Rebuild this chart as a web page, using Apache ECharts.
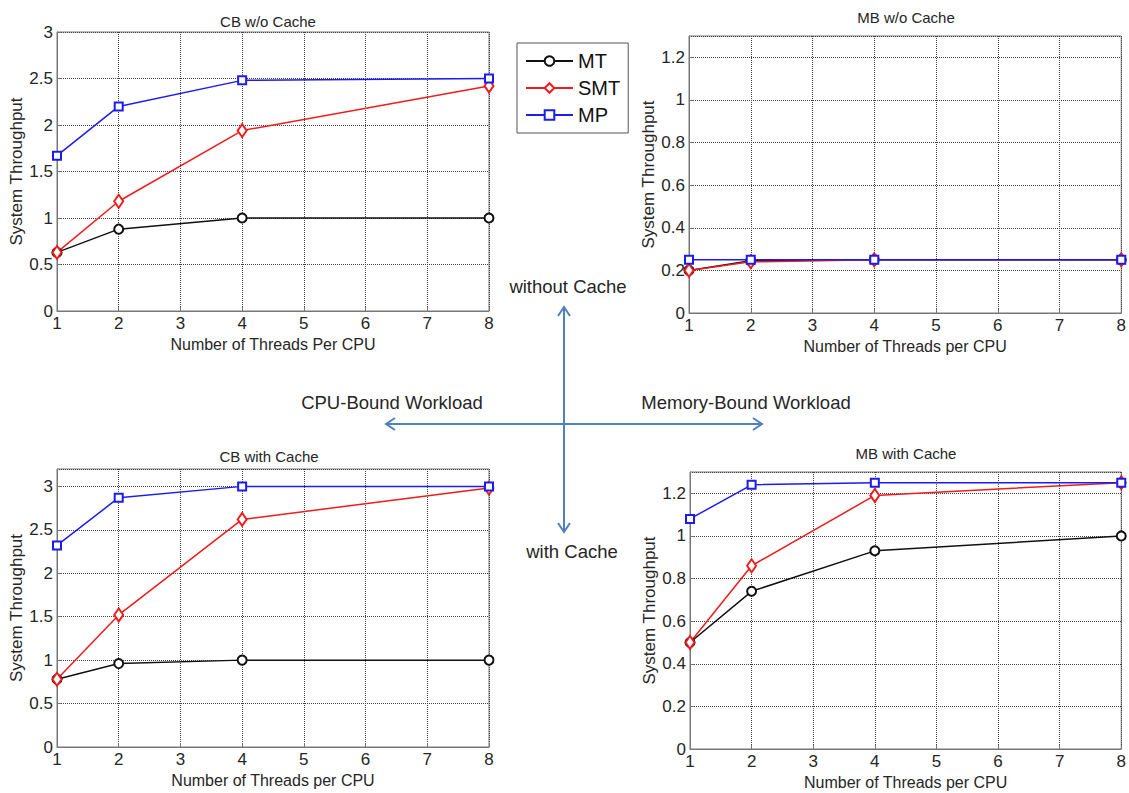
<!DOCTYPE html>
<html>
<head>
<meta charset="utf-8">
<script src="https://cdn.jsdelivr.net/npm/echarts/dist/echarts.min.js"></script>
<style>
  body { margin: 0; background: #fff; }
  #chart { width: 1129px; height: 793px; }
</style>
</head>
<body>
<div id="chart"></div>
<script>
// x values (threads per CPU) and the throughput
const threads = [1, 2, 4, 8];
const seriesNames = ['MT', 'SMT', 'MP'];

const cbNoCacheMT = [0.63, 0.88, 1.0, 1.0];
const cbNoCacheSMT = [0.63, 1.18, 1.94, 2.42];
const cbNoCacheMP = [1.67, 2.2, 2.48, 2.5];

const mbNoCacheMT = [0.2, 0.245, 0.25, 0.25];
const mbNoCacheSMT = [0.2, 0.24, 0.25, 0.25];
const mbNoCacheMP = [0.25, 0.25, 0.25, 0.25];

const cbCacheMT = [0.78, 0.96, 1.0, 1.0];
const cbCacheSMT = [0.78, 1.52, 2.62, 2.98];
const cbCacheMP = [2.32, 2.87, 3.0, 3.0];

const mbCacheMT = [0.5, 0.74, 0.93, 1.0];
const mbCacheSMT = [0.5, 0.86, 1.19, 1.25];
const mbCacheMP = [1.08, 1.24, 1.25, 1.25];

const panelTitles = ['CB w/o Cache', 'MB w/o Cache', 'CB with Cache', 'MB with Cache'];
const xNames = ['Number of Threads Per CPU', 'Number of Threads per CPU', 'Number of Threads per CPU', 'Number of Threads per CPU'];

const FONT = '"Liberation Sans", Arial, sans-serif';
const TXT = '#262626';

var panels = [
  { left: 57, top: 32, width: 432, height: 279, max: 3, interval: 0.5, data: [cbNoCacheMT, cbNoCacheSMT, cbNoCacheMP], tx: 268, ty: 21 },
  { left: 689, top: 36, width: 435, height: 277, max: 1.3, interval: 0.2, data: [mbNoCacheMT, mbNoCacheSMT, mbNoCacheMP], tx: 906, ty: 17 },
  { left: 57, top: 469, width: 432, height: 278, max: 3.2, interval: 0.5, data: [cbCacheMT, cbCacheSMT, cbCacheMP], tx: 269, ty: 456 },
  { left: 690, top: 472, width: 434, height: 277, max: 1.3, interval: 0.2, data: [mbCacheMT, mbCacheSMT, mbCacheMP], tx: 906, ty: 453 }
];

var styles = {
  MT: { color: '#111111', symbol: 'emptyCircle', symbolSize: 9 },
  SMT: { color: '#ee1c1c', symbol: 'emptyDiamond', symbolSize: [9, 13] },
  MP: { color: '#1c1cee', symbol: 'emptyRect', symbolSize: 8 }
};

const pairs = (ys) => threads.map((t, i) => [t, ys[i]]);

var grids = [], xAxes = [], yAxes = [], series = [], graphics = [];

panels.forEach(function (p, idx) {
  grids.push({
    left: p.left, top: p.top, width: p.width, height: p.height,
    show: true, borderColor: '#777', borderWidth: 1
  });
  xAxes.push({
    gridIndex: idx,
    type: 'value',
    min: 1, max: 8, interval: 1,
    name: xNames[idx],
    nameLocation: 'middle',
    nameGap: 25,
    nameTextStyle: { fontSize: 16, color: TXT, fontFamily: FONT },
    axisLine: { show: true, lineStyle: { color: '#777' } },
    axisTick: { show: true, inside: true, length: 4, lineStyle: { color: '#777' } },
    axisLabel: { fontSize: 17, color: TXT, fontFamily: FONT, margin: 4 },
    splitLine: { show: true, lineStyle: { type: 'dotted', color: '#444', width: 1 } }
  });
  yAxes.push({
    gridIndex: idx,
    type: 'value',
    min: 0, max: p.max, interval: p.interval,
    name: 'System Throughput',
    nameLocation: 'middle',
    nameGap: 30,
    nameTextStyle: { fontSize: 17, color: TXT, fontFamily: FONT },
    axisLine: { show: true, lineStyle: { color: '#777' } },
    axisTick: { show: true, inside: true, length: 4, lineStyle: { color: '#777' } },
    axisLabel: { fontSize: 17, color: TXT, fontFamily: FONT, margin: 4, showMaxLabel: p.max === 3 },
    splitLine: { show: true, lineStyle: { type: 'dotted', color: '#444', width: 1 } }
  });
  seriesNames.forEach(function (name, k) {
    var s = styles[name];
    series.push({
      name: name,
      type: 'line',
      xAxisIndex: idx,
      yAxisIndex: idx,
      data: pairs(p.data[k]),
      symbol: s.symbol,
      symbolSize: s.symbolSize,
      lineStyle: { color: s.color, width: 1.5 },
      itemStyle: { color: s.color, borderColor: s.color, borderWidth: 1.5 },
      animation: false
    });
  });
  graphics.push({
    type: 'text', x: p.tx, y: p.ty,
    style: { text: panelTitles[idx], fontSize: 15, fontFamily: FONT, fill: TXT, align: 'center', verticalAlign: 'middle' }
  });
});

// quadrant arrows and their labels
var arrowColor = '#4f81bd';
var arrowLine = { stroke: arrowColor, lineWidth: 2, fill: null };
graphics.push(
  { type: 'line', shape: { x1: 564, y1: 307, x2: 564, y2: 532 }, style: arrowLine },
  { type: 'line', shape: { x1: 386, y1: 424, x2: 762, y2: 424 }, style: arrowLine },
  { type: 'polyline', shape: { points: [[558, 316], [564, 307], [570, 316]] }, style: arrowLine },
  { type: 'polyline', shape: { points: [[558, 523], [564, 532], [570, 523]] }, style: arrowLine },
  { type: 'polyline', shape: { points: [[395, 418], [386, 424], [395, 430]] }, style: arrowLine },
  { type: 'polyline', shape: { points: [[753, 418], [762, 424], [753, 430]] }, style: arrowLine },
  { type: 'text', x: 568, y: 286, style: { text: 'without Cache', fontSize: 18.5, fontFamily: FONT, fill: TXT, align: 'center', verticalAlign: 'middle' } },
  { type: 'text', x: 572, y: 551, style: { text: 'with Cache', fontSize: 18.5, fontFamily: FONT, fill: TXT, align: 'center', verticalAlign: 'middle' } },
  { type: 'text', x: 392, y: 402, style: { text: 'CPU-Bound Workload', fontSize: 18.5, fontFamily: FONT, fill: TXT, align: 'center', verticalAlign: 'middle' } },
  { type: 'text', x: 746, y: 402, style: { text: 'Memory-Bound Workload', fontSize: 18.5, fontFamily: FONT, fill: TXT, align: 'center', verticalAlign: 'middle' } }
);

var myChart = echarts.init(document.getElementById('chart'), null, { renderer: 'svg' });
option = {
  backgroundColor: '#fff',
  animation: false,
  legend: {
    data: seriesNames,
    orient: 'vertical',
    left: 517,
    top: 43,
    padding: [8, 8, 8, 8],
    itemWidth: 47,
    itemHeight: 12,
    itemGap: 7,
    borderColor: '#555',
    borderWidth: 1,
    backgroundColor: '#fff',
    textStyle: { fontSize: 20, color: '#111', fontFamily: FONT, lineHeight: 20 }
  },
  grid: grids,
  xAxis: xAxes,
  yAxis: yAxes,
  series: series,
  graphic: graphics
};
myChart.setOption(option);
</script>
</body>
</html>
